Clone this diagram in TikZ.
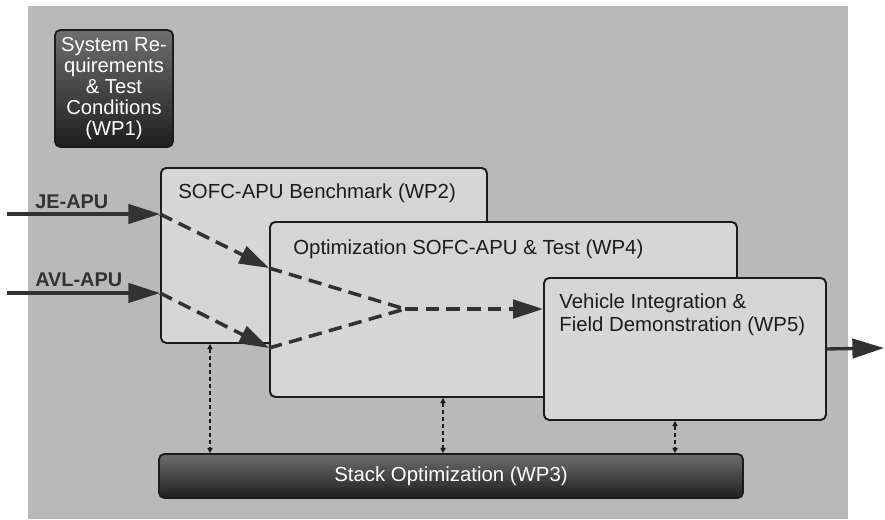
\documentclass[tikz,border=0pt]{standalone}
\usepackage{fontspec}
\setmainfont{Liberation Sans}
\usepackage{xcolor}
\usepackage{tikz}
\usetikzlibrary{arrows.meta,positioning}
\definecolor{bgGray}{RGB}{185,185,185}
\definecolor{boxLight}{RGB}{214,214,214}
\definecolor{boxLine}{RGB}{28,28,28}
\definecolor{darkTop}{RGB}{110,110,110}
\definecolor{darkBot}{RGB}{30,30,30}
\definecolor{arrowGray}{RGB}{50,50,50}

\begin{document}
\begin{tikzpicture}[
  wpbox/.style={draw=boxLine,line width=1.1pt,fill=boxLight,rounded corners=3pt,
                anchor=north west,inner sep=0pt},
  wpdark/.style={draw=boxLine,line width=1pt,rounded corners=3pt,
                 top color=darkTop,bottom color=darkBot,text=white,
                 font=\fontsize{11.5}{11.9}\selectfont,align=center,inner sep=0pt},
  wptext/.style={anchor=west,inner sep=0pt,text=boxLine,
                 font=\fontsize{11.6}{13}\selectfont,align=left},
  feed/.style={-{Triangle[length=18pt,width=11pt]},line width=1.9pt,arrowGray},
  flow/.style={-{Triangle[length=17pt,width=10.5pt]},line width=2pt,arrowGray,
               dash pattern=on 7.6pt off 4.2pt},
  flowline/.style={line width=2pt,arrowGray,dash pattern=on 7.6pt off 4.2pt},
  link/.style={{Triangle[length=3pt,width=3pt]}-{Triangle[length=3pt,width=3pt]},
               line width=0.7pt,boxLine,dash pattern=on 2.3pt off 1.7pt},
  inlabel/.style={anchor=west,inner sep=0pt,text=arrowGray,
                  font=\fontsize{11.3}{13}\selectfont\bfseries}
]

\useasboundingbox (0,0) rectangle (17.7,10.38);

% Background panel
\fill[bgGray] (0.56,0) rectangle (16.96,10.26);

% Work package boxes
\node[wpbox,minimum width=6.52cm,minimum height=3.50cm] (wp2) at (3.20,7.04) {};
\node[wptext] (t2) at ([shift={(0.36,-0.52)}]wp2.north west) {SOFC-APU Benchmark (WP2)};

\node[wpbox,minimum width=9.34cm,minimum height=3.50cm] (wp4) at (5.38,5.96) {};
\node[wptext] (t4) at ([shift={(0.48,-0.56)}]wp4.north west) {Optimization SOFC-APU \& Test (WP4)};

\node[wpbox,minimum width=5.64cm,minimum height=2.84cm] (wp5) at (10.86,4.84) {};
\node[wptext] (t5) at ([shift={(0.32,-0.75)}]wp5.north west)
  {Vehicle Integration \&\\Field Demonstration (WP5)};

\node[wpdark,minimum width=2.36cm,minimum height=2.34cm] (wp1) at (2.28,8.61)
  {System Re-\\quirements\\\&~Test\\Conditions\\(WP1)};
\node[wpdark,minimum width=11.68cm,minimum height=0.88cm,
      font=\fontsize{11.6}{13}\selectfont] (wp3) at (9.02,0.86) {Stack Optimization (WP3)};

% Inputs
\coordinate (jein) at (0.14,6.10);
\coordinate (avlin) at (0.14,4.52);
\draw[feed] (jein) -- (jein -| wp2.west);
\draw[feed] (avlin) -- (avlin -| wp2.west);
\node[inlabel] (je) at (0.70,6.34) {JE-APU};
\node[inlabel] (avl) at (0.70,4.78) {AVL-APU};

% Dashed flow through WP2 and WP4 into WP5
\coordinate (mix) at (8.10,4.20);
\draw[flow] (jein -| wp2.west) -- (wp4.west |- 0,5.02);
\draw[flow] (avlin -| wp2.west) -- (wp4.west |- 0,3.42);
\draw[flowline] (wp4.west |- 0,5.02) -- (mix);
\draw[flowline] (wp4.west |- 0,3.42) -- (mix);
\draw[flow] (mix) -- (mix -| wp5.west);

% Output
\coordinate (out) at (17.68,3.42);
\draw[feed] (wp5.east) -- (out);

% Links to stack optimization
\draw[link] (4.20,0 |- wp2.south) -- (4.20,0 |- wp3.north);
\draw[link] (8.86,0 |- wp4.south) -- (8.86,0 |- wp3.north);
\draw[link] (13.50,0 |- wp5.south) -- (13.50,0 |- wp3.north);

\end{tikzpicture}
\end{document}
